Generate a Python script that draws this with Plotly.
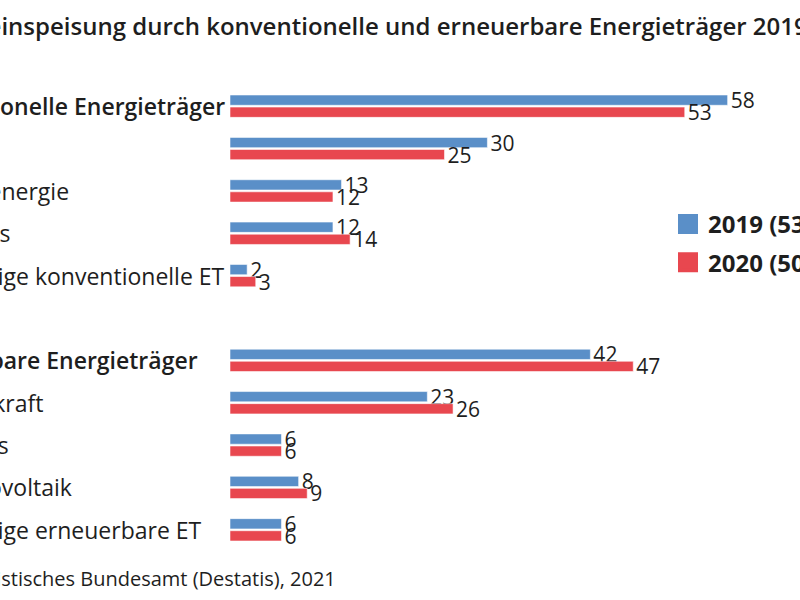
import plotly.graph_objects as go

# Nettostromeinspeisung, Anteile in %
categories = [
    "Konventionelle Energieträger",
    "Kohle",
    "Kernenergie",
    "Erdgas",
    "Sonstige konventionelle ET",
    " ",
    "Erneuerbare Energieträger",
    "Windkraft",
    "Biogas",
    "Photovoltaik",
    "Sonstige erneuerbare ET",
]
values_2019 = [58, 30, 13, 12, 2, None, 42, 23, 6, 8, 6]
values_2020 = [53, 25, 12, 14, 3, None, 47, 26, 6, 9, 6]
labels = ["2019 (534 Mrd. kWh)", "2020 (502 Mrd. kWh)"]

BLUE = "#5a8fc8"
RED = "#e8474f"
FONT = "Open Sans"
INK = "#1e1e1e"

# plot area in pixels (800x600 page)
L, R, T, B = 230, 0, 85, 49
W, H = 800 - L - R, 600 - T - B


def px_x(p):
    return (p - L) / W


def px_y(p):
    return 1 - (p - T) / H


fig = go.Figure()
for vals, color, name in [(values_2019, BLUE, labels[0]), (values_2020, RED, labels[1])]:
    fig.add_trace(go.Bar(
        y=categories, x=vals, orientation="h", name=name, showlegend=False,
        marker=dict(color=color, line=dict(color="rgba(255,255,255,0.55)", width=1)),
        text=vals, textposition="outside", constraintext="none", cliponaxis=False,
        textfont=dict(family=FONT, size=21, color=INK),
        hoverinfo="skip",
    ))
    # legend entry with a bigger square than the bar default
    fig.add_trace(go.Scatter(
        x=[None], y=[None], mode="markers", name=name, legendgroup=name,
        marker=dict(symbol="square", size=16, color=color, line=dict(color=color, width=4)),
    ))

# category labels, left aligned like in the original (cut at the left edge)
annotations = []
for cat in categories:
    if not cat.strip():
        continue
    heading = cat.endswith("Energieträger")
    annotations.append(dict(
        text=cat, xref="paper", yref="y", x=px_x(-101 if heading else -64), y=cat,
        xanchor="left", yanchor="middle", showarrow=False,
        font=dict(family=FONT, size=23, color=INK, weight=600 if heading else "normal"),
    ))

annotations += [
    dict(
        text="Stromeinspeisung durch konventionelle und erneuerbare Energieträger 2019 und 2020",
        xref="paper", yref="paper", x=px_x(-85), y=px_y(25),
        xanchor="left", yanchor="middle", showarrow=False,
        font=dict(family=FONT, size=24, color=INK, weight=600),
    ),
    dict(
        text="Quelle: Statistisches Bundesamt (Destatis), 2021",
        xref="paper", yref="paper", x=px_x(-113), y=px_y(578),
        xanchor="left", yanchor="middle", showarrow=False,
        font=dict(family=FONT, size=20, color=INK),
    ),
]

fig.update_layout(
    width=800, height=600,
    margin=dict(l=L, r=R, t=T, b=B, autoexpand=False),
    paper_bgcolor="white", plot_bgcolor="white",
    barmode="group", bargap=0.43, bargroupgap=0.15,
    font=dict(family=FONT, color=INK),
    showlegend=True,
    legend=dict(
        x=px_x(668), y=px_y(243.5), xanchor="left", yanchor="middle",
        font=dict(family=FONT, size=24, color=INK, weight="bold"),
        itemsizing="trace", traceorder="grouped", tracegroupgap=4,
        bgcolor="rgba(0,0,0,0)",
    ),
    xaxis=dict(range=[0, W / 8.58], visible=False, automargin=False, fixedrange=True),
    yaxis=dict(
        autorange="reversed", automargin=False, ticks="", showline=False,
        showgrid=False, zeroline=False, showticklabels=False, fixedrange=True,
    ),
    annotations=annotations,
)

# page body has a default 8px margin; drop it so the chart sits at 0,0
fig.write_html(
    "out.html",
    config={"displayModeBar": False},
    post_script="document.body.style.margin='0';",
)
